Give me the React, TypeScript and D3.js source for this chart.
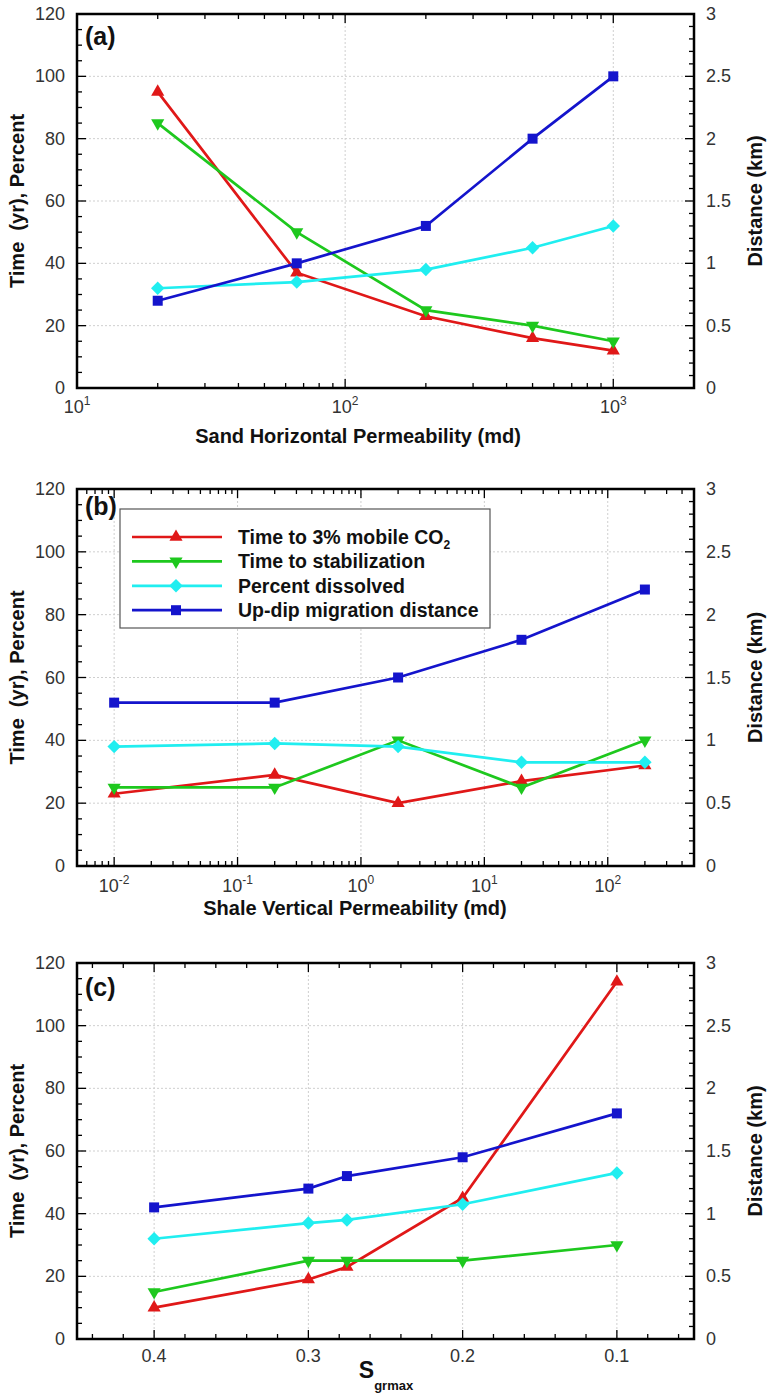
import React, { useEffect, useRef } from 'react';
import * as d3 from 'd3';

// (a) sand horizontal permeability (md)
const sandPerm = [20, 66, 200, 500, 1000];
const sandMobile = [95, 37, 23, 16, 12];
const sandStab = [85, 50, 25, 20, 15];
const sandDissolved = [32, 34, 38, 45, 52];
const sandDistance = [0.7, 1.0, 1.3, 2.0, 2.5];

// (b) shale vertical permeability (md)
const shalePerm = [0.01, 0.2, 2, 20, 200];
const shaleMobile = [23, 29, 20, 27, 32];
const shaleStab = [25, 25, 40, 25, 40];
const shaleDissolved = [38, 39, 38, 33, 33];
const shaleDistance = [1.3, 1.3, 1.5, 1.8, 2.2];

// (c) Sgrmax
const sgrmax = [0.4, 0.3, 0.275, 0.2, 0.1];
const sgMobile = [10, 19, 23, 45, 114];
const sgStab = [15, 25, 25, 25, 30];
const sgDissolved = [32, 37, 38, 43, 53];
const sgDistance = [1.05, 1.2, 1.3, 1.45, 1.8];

const seriesNames = ['Time to 3% mobile CO', 'Time to stabilization', 'Percent dissolved', 'Up-dip migration distance'];
const leftTicks = [0, 20, 40, 60, 80, 100, 120];
const rightTicks = [0, 0.5, 1, 1.5, 2, 2.5, 3];
const sgTicks = [0.4, 0.3, 0.2, 0.1];

const FONT = '"Liberation Sans", Arial, Helvetica, sans-serif';
const colors = ['#e01818', '#1ec81e', '#20eef0', '#1414cc'];
const LEFT = 77;
const RIGHT = 694;

const markerPath = (i: number) => {
  if (i === 0) return d3.symbol().type(d3.symbolTriangle).size(75)();
  if (i === 1) return d3.symbol().type(d3.symbolTriangle).size(75)();
  if (i === 2) return d3.symbol().type(d3.symbolSquare).size(90)();
  return d3.symbol().type(d3.symbolSquare).size(100)();
};
const markerRot = (i: number) => (i === 1 ? 180 : i === 2 ? 45 : 0);

const drawPanel = (svg: any, p: any) => {
  const g = svg.append('g');
  const yL = d3.scaleLinear().domain([0, 120]).range([p.bottom, p.top]);
  const yR = d3.scaleLinear().domain([0, 3]).range([p.bottom, p.top]);
  const x = p.x;

  // grid
  const grid = g.append('g').attr('stroke', '#cfcfcf').attr('stroke-width', 1).attr('stroke-dasharray', '2,2');
  leftTicks.filter(t => t > 0 && t < 120).forEach(t => {
    grid.append('line').attr('x1', LEFT).attr('x2', RIGHT).attr('y1', yL(t)).attr('y2', yL(t));
  });
  p.xMajor.forEach((t: number) => {
    const px = x(t);
    if (px > LEFT + 2 && px < RIGHT - 2)
      grid.append('line').attr('x1', px).attr('x2', px).attr('y1', p.top).attr('y2', p.bottom);
  });

  // ticks
  const tk = g.append('g').attr('stroke', '#000').attr('stroke-width', 1.3);
  p.xMinor.forEach((t: number) => {
    const major = p.xMajor.some((m: number) => Math.abs(m - t) < 1e-9);
    const len = major ? 9 : 5;
    const px = x(t);
    if (px < LEFT || px > RIGHT) return;
    tk.append('line').attr('x1', px).attr('x2', px).attr('y1', p.bottom).attr('y2', p.bottom - len);
    tk.append('line').attr('x1', px).attr('x2', px).attr('y1', p.top).attr('y2', p.top + len);
  });
  d3.range(0, 121, 5).forEach(t => {
    const len = t % 20 === 0 ? 9 : 5;
    tk.append('line').attr('x1', LEFT).attr('x2', LEFT + len).attr('y1', yL(t)).attr('y2', yL(t));
  });
  d3.range(0, 31).forEach(k => {
    const t = k / 10;
    const len = k % 5 === 0 ? 9 : 5;
    tk.append('line').attr('x1', RIGHT).attr('x2', RIGHT - len).attr('y1', yR(t)).attr('y2', yR(t));
  });

  // frame
  g.append('rect').attr('x', LEFT).attr('y', p.top).attr('width', RIGHT - LEFT).attr('height', p.bottom - p.top)
    .attr('fill', 'none').attr('stroke', '#000').attr('stroke-width', 2.5);

  // tick labels
  const lab = g.append('g').attr('font-family', FONT).attr('font-size', 18).attr('fill', '#333');
  leftTicks.forEach(t => {
    lab.append('text').attr('x', 65).attr('y', yL(t) + 6).attr('text-anchor', 'end').text(t);
  });
  rightTicks.forEach(t => {
    lab.append('text').attr('x', 706).attr('y', yR(t) + 6).attr('text-anchor', 'start').text(t);
  });
  p.xMajor.forEach((t: number) => {
    const txt = lab.append('text').attr('x', x(t)).attr('y', p.bottom + p.tickDy).attr('text-anchor', 'middle');
    if (p.log) {
      txt.append('tspan').text('10');
      txt.append('tspan').attr('font-size', 12).attr('dy', -8).text(Math.round(Math.log10(t)));
    } else {
      txt.text(d3.format('.1f')(t));
    }
  });

  // axis titles
  const ttl = g.append('g').attr('font-family', FONT).attr('font-weight', 'bold').attr('fill', '#111');
  const cy = (p.top + p.bottom) / 2;
  ttl.append('text').attr('transform', `translate(24,${cy}) rotate(-90)`).attr('text-anchor', 'middle')
    .attr('font-size', 20).style('white-space', 'pre').text('Time  (yr), Percent');
  ttl.append('text').attr('transform', `translate(762,${cy}) rotate(-90)`).attr('text-anchor', 'middle')
    .attr('font-size', 20).text('Distance (km)');
  if (p.sub) {
    const t = ttl.append('text').attr('x', p.titleX).attr('y', p.titleY).attr('text-anchor', 'middle');
    t.append('tspan').attr('font-size', 23).text(p.title);
    t.append('tspan').attr('font-size', 13).attr('dy', 12).text(p.sub);
  } else {
    ttl.append('text').attr('x', p.titleX).attr('y', p.titleY).attr('text-anchor', 'middle')
      .attr('font-size', 20).text(p.title);
  }
  ttl.append('text').attr('x', 85).attr('y', p.top + p.labelDy).attr('font-size', 25).text(p.label);

  // series
  const series = [
    { vals: p.mobile, y: yL },
    { vals: p.stab, y: yL },
    { vals: p.dissolved, y: yL },
    { vals: p.distance, y: yR },
  ];
  series.forEach((s, i) => {
    const line = d3.line<number>().x((_d, j) => x(p.xs[j])).y(d => s.y(d));
    g.append('path').attr('d', line(s.vals)).attr('fill', 'none').attr('stroke', colors[i]).attr('stroke-width', 2.7);
    s.vals.forEach((v: number, j: number) => {
      g.append('path').attr('d', markerPath(i))
        .attr('transform', `translate(${x(p.xs[j])},${s.y(v)}) rotate(${markerRot(i)})`)
        .attr('fill', colors[i]);
    });
  });

  if (p.legend) {
    const lg = g.append('g');
    lg.append('rect').attr('x', 120).attr('y', 509).attr('width', 370).attr('height', 119)
      .attr('fill', '#fff').attr('stroke', '#555').attr('stroke-width', 1.2);
    seriesNames.forEach((name, i) => {
      const ly = 537 + i * 24.4;
      lg.append('line').attr('x1', 132).attr('x2', 222).attr('y1', ly).attr('y2', ly)
        .attr('stroke', colors[i]).attr('stroke-width', 2.7);
      lg.append('path').attr('d', markerPath(i)).attr('transform', `translate(176,${ly}) rotate(${markerRot(i)})`)
        .attr('fill', colors[i]);
      const t = lg.append('text').attr('x', 238).attr('y', ly + 7).attr('font-family', FONT)
        .attr('font-weight', 'bold').attr('font-size', 19.5).attr('fill', '#111');
      t.append('tspan').text(name);
      if (i === 0) t.append('tspan').attr('font-size', 12).attr('dy', 5).text('2');
    });
  }
};

const App = () => {
  const svgRef = useRef<SVGSVGElement>(null);

  useEffect(() => {
    const svg = d3.select(svgRef.current);
    svg.selectAll('*').remove();

    const xa = d3.scaleLog().domain([10, 2000]).range([LEFT, RIGHT]);
    drawPanel(svg, {
      top: 14, bottom: 388, x: xa, log: true,
      xMajor: [10, 100, 1000], xMinor: xa.ticks(), tickDy: 25,
      xs: sandPerm, mobile: sandMobile, stab: sandStab, dissolved: sandDissolved, distance: sandDistance,
      title: 'Sand Horizontal Permeability (md)', titleX: 358, titleY: 443, label: '(a)', labelDy: 31,
    });

    const xb = d3.scaleLog().domain([0.005, 500]).range([LEFT, RIGHT]);
    drawPanel(svg, {
      top: 489, bottom: 866, x: xb, log: true,
      xMajor: [0.01, 0.1, 1, 10, 100], xMinor: xb.ticks(), tickDy: 26,
      xs: shalePerm, mobile: shaleMobile, stab: shaleStab, dissolved: shaleDissolved, distance: shaleDistance,
      title: 'Shale Vertical Permeability (md)', titleX: 355, titleY: 915, label: '(b)', labelDy: 26,
      legend: true,
    });

    const xc = d3.scaleLinear().domain([0.45, 0.05]).range([LEFT, RIGHT]);
    drawPanel(svg, {
      top: 963, bottom: 1339, x: xc, log: false,
      xMajor: sgTicks, xMinor: d3.range(3, 23).map(k => k / 50), tickDy: 23,
      xs: sgrmax, mobile: sgMobile, stab: sgStab, dissolved: sgDissolved, distance: sgDistance,
      title: 'S', sub: 'grmax', titleX: 386, titleY: 1378, label: '(c)', labelDy: 33,
    });
  }, []);

  return (
    <svg ref={svgRef} width={768} height={1400}
      style={{ position: 'absolute', left: 0, top: 0, background: '#fff', display: 'block' }} />
  );
};

export default App;
